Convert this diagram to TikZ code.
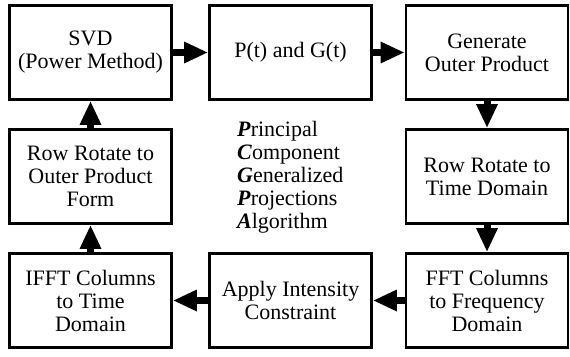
\documentclass[tikz,border=0pt]{standalone}
\usepackage{fontspec}
\setmainfont{Liberation Serif}
\usetikzlibrary{arrows.meta}
\begin{document}
\begin{tikzpicture}[x=1pt,y=-1pt,
  box/.style={draw, line width=2.8pt, minimum width=162pt, minimum height=94pt,
    align=center, inner sep=0pt, font=\fontsize{22}{23}\selectfont},
  flow/.style={line width=7pt, -{Triangle[length=24pt,width=20pt]}},
  lbl/.style={anchor=base west, inner sep=0pt, font=\fontsize{22}{23}\selectfont}]
\useasboundingbox (0,0) rectangle (570,356);
\fill[white] (0,0) rectangle (570,356);
\node[box] (svd) at (90.5,52.5) {SVD\\(Power Method)};
\node[box] (pg) at (290.5,52.5) {P(t) and G(t)};
\node[box] (gen) at (487,52.5) {Generate\\Outer Product};
\node[box] (rrt) at (487,176.5) {Row Rotate to\\Time Domain};
\node[box] (fft) at (487,300.5) {FFT Columns\\to Frequency\\Domain};
\node[box] (app) at (290.5,300.5) {Apply Intensity\\Constraint};
\node[box] (ifft) at (90.5,300.5) {IFFT Columns\\to Time\\Domain};
\node[box] (rro) at (90.5,176.5) {Row Rotate to\\Outer Product\\Form};
\draw[flow] (svd) -- (pg);
\draw[flow] (pg) -- (gen);
\draw[flow] (gen) -- (rrt);
\draw[flow] (rrt) -- (fft);
\draw[flow] (fft) -- (app);
\draw[flow] (app) -- (ifft);
\draw[flow] (ifft) -- (rro);
\draw[flow] (rro) -- (svd);
\node[lbl] (t1) at (237,136.5) {\textbf{\textit{P}}rincipal};
\node[lbl] (t2) at (237,159.5) {\textbf{\textit{C}}omponent};
\node[lbl] (t3) at (237,182.5) {\textbf{\textit{G}}eneralized};
\node[lbl] (t4) at (237,205.5) {\textbf{\textit{P}}rojections};
\node[lbl] (t5) at (237,228.5) {\textbf{\textit{A}}lgorithm};
\end{tikzpicture}
\end{document}
